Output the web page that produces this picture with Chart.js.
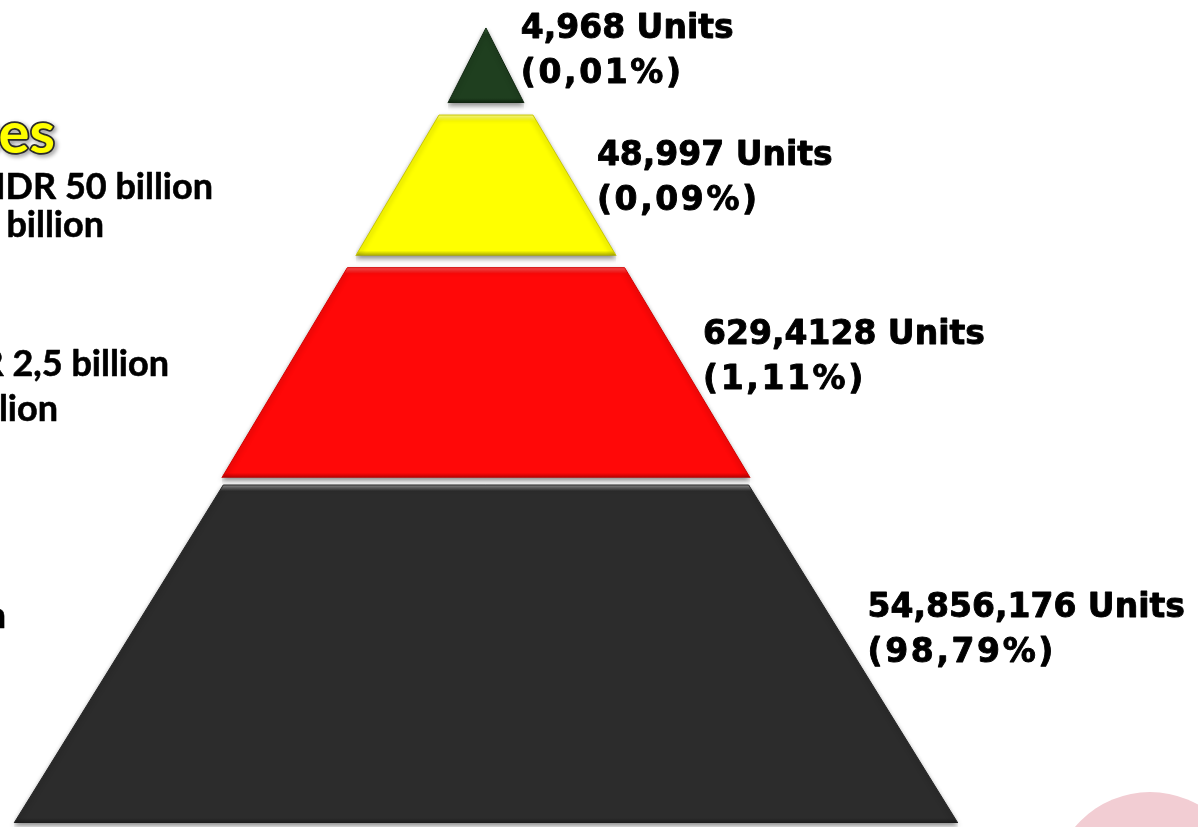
<!DOCTYPE html>
<html>
<head>
<meta charset="utf-8">
<script src="https://cdn.jsdelivr.net/npm/chart.js@4/dist/chart.umd.min.js"></script>
<style>
html,body{margin:0;padding:0;background:#fff;overflow:hidden}
#wrap{width:1198px;height:827px;position:relative}
canvas{display:block}
</style>
</head>
<body>
<div id="wrap"><canvas id="c" width="1198" height="827"></canvas></div>
<script>
// ---------- DATA ----------
const tiers = ['Large Enterprises', 'Medium Enterprises', 'Small Enterprises', 'Micro Enterprises'];
const unitLabels = ['4,968 Units', '48,997 Units', '629,4128 Units', '54,856,176 Units'];
const shareLabels = ['(0,01%)', '(0,09%)', '(1,11%)', '(98,79%)'];
// partially visible side texts (cropped at the left edge of the slide)
const sideTitles = ['Medium Enterprises'];
const sideLines = [
  'Sales > IDR 2,5 billion – IDR 50 billion',
  'Assets > IDR 500 million – IDR 10 billion',
  'Sales > IDR 300 million – IDR 2,5 billion',
  'Assets > IDR 50 million – IDR 500 million',
  'Sales ≤ IDR 300 million'
];

// ---------- LAYOUT / STYLE ----------
// vertical levels: 0 = base, 100 = apex; horizontal unit: half-widths around the centre line
const LAYOUT = {
  top:       [100, 89.1, 70.0, 42.8],
  bottom:    [90.6, 71.5, 43.7, 0.5],
  halfTop:   [0, 10.0, 29.5, 55.9],
  halfBottom:[8.1, 27.7, 56.2, 100.4],
  labelLevel:[98.8, 82.85, 60.4, 26.3],
  labelX:    [7.4, 23.6, 46.2, 81.2],
  lineGap: 45,
  sideTitlePos: [[55, 153]],
  sideLinePos: [[213, 199], [104, 237], [169, 376], [58, 421], [6, 628]]
};
const SHADES = [
  ['#3F6E3F', '#1F3F1F', '#0E220E', '#0F260F'],
  ['#FFFF8A', '#FFFF00', '#A6A600', '#C9C900'],
  ['#FF5050', '#FF0808', '#B00000', '#D40000'],
  ['#8C8C8C', '#2C2C2C', '#1C1C1C', '#262626']
];

function tierFill(i) {
  return (ctx) => {
    const chart = ctx.chart;
    if (!chart.chartArea || !chart.scales.y) return SHADES[i][1];
    const ys = chart.scales.y;
    const t = ys.getPixelForValue(LAYOUT.top[i]);
    const b = ys.getPixelForValue(LAYOUT.bottom[i]);
    const h = Math.max(1, b - t);
    const g = chart.ctx.createLinearGradient(0, t, 0, b);
    g.addColorStop(0, SHADES[i][0]);
    g.addColorStop(Math.min(0.45, 6 / h), SHADES[i][1]);
    g.addColorStop(Math.max(0.55, 1 - 5 / h), SHADES[i][1]);
    g.addColorStop(1, SHADES[i][2]);
    return g;
  };
}

const datasets = tiers.map((name, i) => {
  const t = LAYOUT.top[i], b = LAYOUT.bottom[i];
  const ht = LAYOUT.halfTop[i], hb = LAYOUT.halfBottom[i];
  return {
    label: name,
    data: [
      { x: -hb, y: b },
      { x: -ht, y: t },
      { x: ht, y: t },
      { x: hb, y: b }
    ],
    borderColor: SHADES[i][3],
    borderWidth: 1,
    backgroundColor: tierFill(i),
    fill: { value: b },
    pointRadius: 0,
    tension: 0
  };
});

const shadowPlugin = {
  id: 'tierShadow',
  beforeDatasetsDraw(chart) {
    const c = chart.ctx;
    c.save();
    c.shadowColor = 'rgba(0,0,0,0.45)';
    c.shadowBlur = 5;
    c.shadowOffsetY = 3;
  },
  afterDatasetsDraw(chart) { chart.ctx.restore(); }
};

const textPlugin = {
  id: 'pyramidText',
  afterDraw(chart) {
    const c = chart.ctx, xs = chart.scales.x, ys = chart.scales.y;
    c.save();
    // decorative circle bottom-right
    c.fillStyle = '#F2CDD3';
    c.beginPath(); c.arc(1150, 890, 98, 0, Math.PI * 2); c.fill();

    // tier labels on the right
    c.fillStyle = '#000';
    c.strokeStyle = '#000';
    c.lineWidth = 0.9;
    c.lineJoin = 'round';
    c.font = 'bold 33px "DejaVu Sans"';
    c.textAlign = 'left';
    c.textBaseline = 'alphabetic';
    tiers.forEach((_, i) => {
      const x = xs.getPixelForValue(LAYOUT.labelX[i]);
      const y = ys.getPixelForValue(LAYOUT.labelLevel[i]);
      c.letterSpacing = '0px';
      c.fillText(unitLabels[i], x, y);
      c.strokeText(unitLabels[i], x, y);
      c.letterSpacing = '2.6px';
      c.fillText(shareLabels[i], x, y + LAYOUT.lineGap);
      c.strokeText(shareLabels[i], x, y + LAYOUT.lineGap);
    });
    c.letterSpacing = '0px';

    // cropped side texts on the left
    c.textAlign = 'right';
    sideTitles.forEach((s, i) => {
      const [x, y] = LAYOUT.sideTitlePos[i];
      c.font = 'bold 58px Lato';
      c.save();
      c.shadowColor = 'rgba(0,0,0,0.45)';
      c.shadowBlur = 4; c.shadowOffsetX = 2; c.shadowOffsetY = 2;
      c.lineWidth = 3.5; c.strokeStyle = '#2a2a2a';
      c.strokeText(s, x, y);
      c.restore();
      c.fillStyle = '#FFFF00';
      c.fillText(s, x, y);
    });
    c.fillStyle = '#000';
    c.strokeStyle = '#000';
    c.lineWidth = 0.6;
    c.font = 'bold 36px Lato';
    sideLines.forEach((s, i) => {
      const [x, y] = LAYOUT.sideLinePos[i];
      c.fillText(s, x, y);
      c.strokeText(s, x, y);
    });
    c.restore();
  }
};

new Chart(document.getElementById('c'), {
  type: 'line',
  data: { datasets },
  options: {
    responsive: false,
    animation: false,
    devicePixelRatio: 1,
    layout: { padding: 0 },
    plugins: { legend: { display: false }, tooltip: { enabled: false } },
    scales: {
      x: { type: 'linear', min: -103.4, max: 151.5, display: false },
      y: { type: 'linear', min: 0, max: 103.5, display: false }
    }
  },
  plugins: [shadowPlugin, textPlugin]
});
</script>
</body>
</html>
